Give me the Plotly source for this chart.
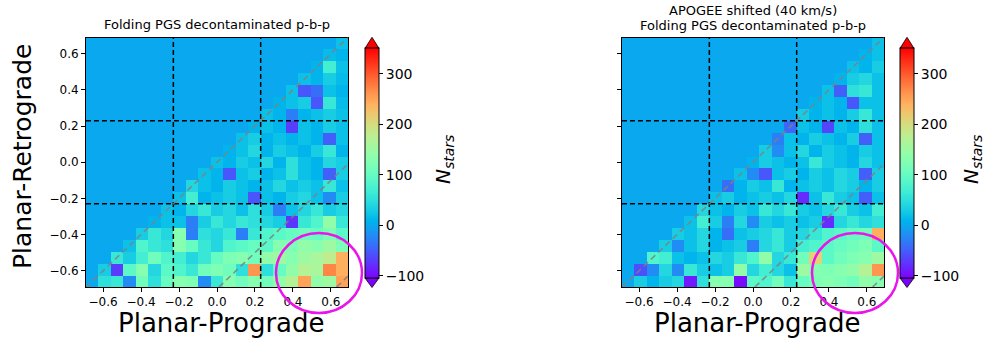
import numpy as np
import plotly.graph_objects as go

# ---------------- data ----------------
n_bins = 21
edges = np.linspace(-0.69, 0.69, n_bins + 1)
centers = (edges[:-1] + edges[1:]) / 2
tick_vals = [-0.6, -0.4, -0.2, 0.0, 0.2, 0.4, 0.6]
tick_text = ["−0.6", "−0.4", "−0.2", "0.0", "0.2", "0.4", "0.6"]
cbar_vals = [-100, 0, 100, 200, 300]
cbar_text = ["−100", "0", "100", "200", "300"]
zmin, zmax = -105, 351

# rows listed from top (Planar-Retrograde high) to bottom; empty upper-left = 0
left_rows = [
    [0]*20 + [20],
    [0]*19 + [15, 10],
    [0]*18 + [10, 70, 20],
    [0]*17 + [20, 10, 30, 15],
    [0]*16 + [20, -55, -40, 20, 10],
    [0]*15 + [10, 20, 30, -55, 60, 15],
    [0]*14 + [20, 10, -30, 10, 20, 30, 20],
    [0]*13 + [10, 20, 10, -70, 20, 10, 30, 20],
    [0]*12 + [20, 30, 10, 20, 10, 20, 10, -50, 20],
    [0]*11 + [10, 20, 40, 10, 30, 20, 10, 30, 60, 10],
    [0]*10 + [20, 10, 30, 20, 40, 10, 50, 20, 10, 40, 30],
    [0]*9 + [20, 10, -55, 20, 30, 10, 20, 50, 20, 10, -50, 30],
    [0]*8 + [40, 20, 10, 30, 20, 10, 20, 40, 20, 30, 20, 60, 20],
    [0]*7 + [20, 70, 10, 20, 30, 20, -55, 20, 10, 30, 40, 20, -20, 30],
    [0]*6 + [20, 10, 40, 60, 30, 40, 20, 50, 30, -30, 20, 40, 60, 30, 40],
    [0]*5 + [10, 20, 20, -30, 30, 60, 40, 60, 50, 40, 30, -75, 60, 80, 140, 60],
    [0]*4 + [30, 60, 40, 130, -30, 50, 40, 60, -30, 60, 80, 90, 100, 110, 100, 120, 90],
    [0]*3 + [20, 80, 60, 50, 130, 100, 60, 40, 80, 90, 100, 90, 130, 120, 140, 130, 150, 120],
    [0]*2 + [60, 30, 70, 110, 80, 70, 40, 60, 100, 120, 130, 110, 140, 150, 130, 150, 160, 180, 240],
    [0] + [30, -70, 90, 130, 40, 90, 80, 60, 110, 120, 110, 50, 260, 50, 100, 140, 170, 160, 270, 240],
    [0, 50, 60, -20, 110, 50, 100, 130, 120, -20, 60, 130, 110, 130, 110, 140, 170, 250, 140, 150, 250],
]

right_rows = [
    [0]*20 + [20],
    [0]*19 + [10, 20],
    [0]*18 + [20, 10, 30],
    [0]*17 + [10, 30, 40, 20],
    [0]*16 + [20, -50, 50, 60, 20],
    [0]*15 + [10, 20, 10, -55, 20, 20],
    [0]*14 + [30, 10, 20, 10, 30, 60, 20],
    [0]*13 + [-45, 20, 10, -65, 20, 10, 50, 20],
    [0]*12 + [-30, 20, 10, 30, 20, 10, 30, -50, 20],
    [0]*11 + [30, -20, 20, 40, 10, 30, 20, 10, 30, 20],
    [0]*10 + [10, 30, 20, 10, 20, 60, 30, 20, 10, 40, 20],
    [0]*9 + [20, -20, -55, 20, 30, 10, 30, 20, 40, 30, -50, 30],
    [0]*8 + [-40, 10, 30, 20, 60, 10, 20, 30, 20, 40, 30, 10, 30],
    [0]*7 + [20, 30, 10, 20, 30, 20, 40, -80, 20, 60, 30, 20, -50, 20],
    [0]*6 + [40, 20, 10, 30, 20, 60, 40, 60, 30, 20, 40, 60, 30, 20, 70],
    [0]*5 + [20, 70, 30, -30, 40, -20, 30, 20, 30, 20, 30, -80, 40, 60, 40, 50],
    [0]*4 + [30, 20, 40, 10, -40, 20, 30, 40, 60, 30, 40, 60, 80, 90, 100, 110, 240],
    [0]*3 + [30, -20, 20, 40, 10, 20, 30, -30, 40, 60, 30, 70, 80, 90, 100, 110, 120, 90],
    [0]*2 + [80, 70, 20, 10, 20, 40, 30, 60, 80, 140, 40, 60, 110, 210, 90, 110, 120, 130, 150],
    [0] + [-60, -20, 40, -20, 60, 30, 20, 30, 140, 40, 70, 40, 20, 150, 130, 120, 130, 140, 170, 260],
    [0, 30, 10, 30, 40, -90, 50, 130, 130, -100, 90, 80, 110, 60, 100, 120, 130, 120, 110, 140, 130],
]

box_lines = [-0.23, 0.23]
diag_offsets = [0.0, -0.7, -1.32]

# ---------------- style helpers ----------------
W, H = 991, 343
def px(x): return x / W
def py(y): return 1 - y / H

def rainbow(n=33):
    out = []
    for k in range(n):
        t = k / (n - 1)
        r = min(1.0, abs(2 * t - 0.5))
        g = max(0.0, np.sin(np.pi * t))
        b = max(0.0, np.cos(np.pi * t / 2))
        out.append([t, f"rgb({round(r*255)},{round(g*255)},{round(b*255)})"])
    return out

CS = rainbow()
FONT = "DejaVu Sans"

fig = go.Figure()

panels = [
    dict(rows=left_rows, xa="x", ya="y", cbx=365, tri_x=(365, 379)),
    dict(rows=right_rows, xa="x2", ya="y2", cbx=900, tri_x=(900, 914)),
]
cb_top, cb_bot = 48.3, 278.0

for p in panels:
    z = p["rows"][::-1]
    fig.add_trace(go.Heatmap(
        x=centers, y=centers, z=z, xaxis=p["xa"], yaxis=p["ya"],
        zmin=zmin, zmax=zmax, colorscale=CS,
        colorbar=dict(x=px(p["cbx"]), xanchor="left", xpad=0,
                      y=py((cb_top + cb_bot) / 2), yanchor="middle", ypad=0,
                      len=(cb_bot - cb_top) / H, lenmode="fraction",
                      thickness=14, thicknessmode="pixels",
                      outlinewidth=1, outlinecolor="black",
                      tickvals=cbar_vals, ticktext=cbar_text,
                      ticks="outside", ticklen=4, tickcolor="black",
                      tickfont=dict(family=FONT, size=14, color="black")),
        hoverinfo="skip",
    ))

ax_common = dict(range=[-0.69, 0.69], tickvals=tick_vals, ticktext=tick_text,
                 ticks="outside", ticklen=4, tickcolor="black",
                 tickfont=dict(family=FONT, size=12, color="black"),
                 showgrid=False, zeroline=False, showline=True,
                 linecolor="black", linewidth=1, mirror=True)

fig.update_layout(
    width=W, height=H, margin=dict(l=0, r=0, t=0, b=0),
    paper_bgcolor="white", plot_bgcolor="white", showlegend=False,
    xaxis=dict(domain=[px(86), px(348)], anchor="y", **ax_common),
    yaxis=dict(domain=[py(287), py(37.5)], anchor="x", **ax_common),
    xaxis2=dict(domain=[px(622), px(884)], anchor="y2", **ax_common),
    yaxis2=dict(domain=[py(287), py(37.5)], anchor="x2", showticklabels=False,
                **{k: v for k, v in ax_common.items() if k not in ("tickfont",)}),
)

shapes = []
for p in panels:
    xr, yr = p["xa"], p["ya"]
    for v in box_lines:
        shapes.append(dict(type="line", xref=xr, yref=yr, x0=v, x1=v, y0=-0.69, y1=0.69,
                           line=dict(color="black", width=1.5, dash="5px,3px")))
        shapes.append(dict(type="line", xref=xr, yref=yr, y0=v, y1=v, x0=-0.69, x1=0.69,
                           line=dict(color="black", width=1.5, dash="5px,3px")))
    for off in diag_offsets:
        x0 = max(-0.69, -0.69 - off)
        x1 = min(0.69, 0.69 - off)
        shapes.append(dict(type="line", xref=xr, yref=yr, x0=x0, x1=x1, y0=x0 + off, y1=x1 + off,
                           line=dict(color="rgba(128,128,128,0.85)", width=1.6, dash="6px,4px")))
    a, b = p["tri_x"]
    m = (a + b) / 2
    shapes.append(dict(type="path", xref="paper", yref="paper",
                       path=f"M{px(a)},{py(cb_top)} L{px(b)},{py(cb_top)} L{px(m)},{py(37.3)} Z",
                       fillcolor="rgb(255,0,0)", line=dict(color="black", width=0.8)))
    shapes.append(dict(type="path", xref="paper", yref="paper",
                       path=f"M{px(a)},{py(cb_bot)} L{px(b)},{py(cb_bot)} L{px(m)},{py(287.5)} Z",
                       fillcolor="rgb(128,0,255)", line=dict(color="black", width=0.8)))

# magenta circles
for (x0, x1) in [(276, 362), (812, 898)]:
    shapes.append(dict(type="circle", xref="paper", yref="paper",
                       x0=px(x0), x1=px(x1), y0=py(313), y1=py(233),
                       line=dict(color="rgb(235,20,235)", width=2.5)))
fig.update_layout(shapes=shapes)

ann = []
def text(x, y, s, size, angle=0, **kw):
    ann.append(dict(x=px(x), y=py(y), xref="paper", yref="paper", text=s, showarrow=False,
                    textangle=angle, xanchor="center", yanchor="middle",
                    font=dict(family=FONT, size=size, color="black"), **kw))

text(217, 24, "Folding PGS decontaminated p-b-p", 13)
text(753, 10.5, "APOGEE shifted (40 km/s)", 13)
text(753, 25.5, "Folding PGS decontaminated p-b-p", 13)
text(221, 323, "Planar-Prograde", 26)
text(757, 323, "Planar-Prograde", 26)
text(22, 157, "Planar-Retrograde", 25, angle=-90)
text(444, 160, "<i>N<sub>stars</sub></i>", 20, angle=-90)
text(972, 160, "<i>N<sub>stars</sub></i>", 20, angle=-90)
fig.update_layout(annotations=ann)

fig.write_html("out.html", config={"displayModeBar": False},
               post_script="document.body.style.margin='0';document.body.style.overflow='hidden';")
